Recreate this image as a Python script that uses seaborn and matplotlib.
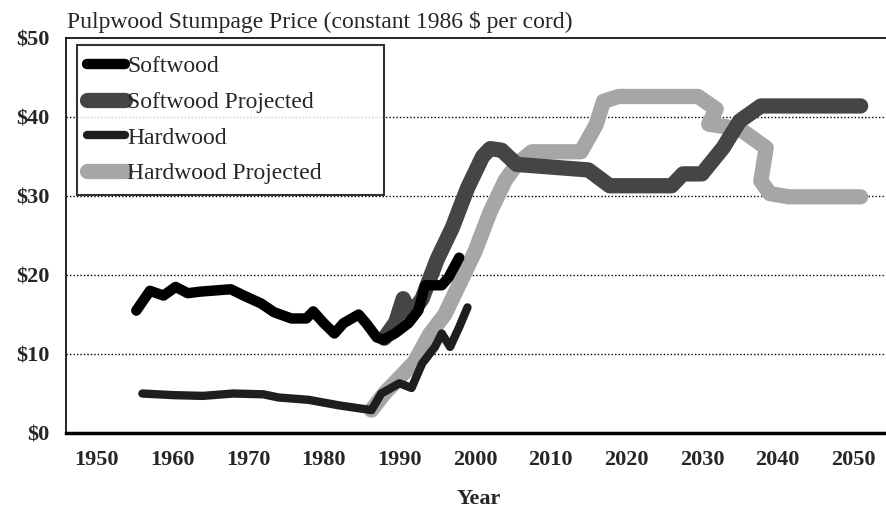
import matplotlib
matplotlib.use("Agg")
import matplotlib.pyplot as plt
import pandas as pd
import seaborn as sns

# ==========================
# DADOS
# ==========================

soft_anos = [1955.2, 1957, 1958.8, 1960.4, 1962, 1963.7, 1967.7, 1969.4, 1971.7,
             1973.4, 1975.7, 1977.7, 1978.6, 1980, 1981.4, 1982.6, 1984.6, 1985.6,
             1987, 1987.9, 1989.4, 1991.2, 1992.5, 1993.4, 1995.6, 1996.5, 1997.9]
soft_precos = [15.5, 18.0, 17.4, 18.5, 17.7, 17.9, 18.2, 17.4, 16.4,
               15.3, 14.5, 14.5, 15.4, 13.9, 12.6, 13.9, 15.0, 13.9,
               12.1, 11.8, 12.6, 13.9, 15.5, 18.7, 18.7, 19.7, 22.2]

soft_proj_anos = [1988, 1989.5, 1990.5, 1991.5, 1993, 1995, 1997, 1999, 2001,
                  2002, 2003.5, 2005.5, 2015, 2017.8, 2026, 2027.5, 2030, 2032.8,
                  2035, 2037.8, 2051]
soft_proj_precos = [12.0, 14.0, 17.0, 15.0, 17.0, 22.0, 26.0, 31.0, 35.0,
                    36.0, 35.8, 34.0, 33.3, 31.3, 31.3, 32.8, 32.8, 36.1,
                    39.5, 41.4, 41.4]

hard_anos = [1956, 1960, 1964, 1968, 1972, 1974, 1978, 1982, 1986.3, 1987.6,
             1990, 1991.6, 1993, 1994.7, 1995.6, 1996.7, 1997.9, 1999]
hard_precos = [5.0, 4.8, 4.7, 5.0, 4.9, 4.5, 4.2, 3.5, 2.9, 5.0,
               6.3, 5.7, 8.8, 10.9, 12.6, 10.9, 13.4, 15.9]

hard_proj_anos = [1986.3, 1988, 1990, 1992, 1994, 1996, 1998, 2000, 2002, 2004,
                  2005.5, 2007.5, 2014, 2016, 2017, 2019, 2029.5, 2031.9, 2030.9,
                  2035, 2038.5, 2037.8, 2039, 2041.5, 2051]
hard_proj_precos = [2.9, 5.0, 7.0, 9.0, 12.5, 15.0, 19.0, 23.0, 28.0, 32.0,
                    34.0, 35.6, 35.6, 39.0, 42.0, 42.6, 42.6, 41.0, 39.1,
                    38.5, 36.1, 31.9, 30.3, 29.9, 29.9]

Y_TICKS = [0, 10, 20, 30, 40, 50]
Y_LABELS = ["$0", "$10", "$20", "$30", "$40", "$50"]
X_TICKS = [1950, 1960, 1970, 1980, 1990, 2000, 2010, 2020, 2030, 2040, 2050]

# ==========================
# ESTILO
# ==========================

sns.set_style("white")
plt.rcParams["font.family"] = ["Liberation Serif", "DejaVu Serif"]

fig = plt.figure(figsize=(8.87, 5.11), dpi=100)
ax = fig.add_axes([0.0744, 0.1526, 0.93, 0.773])

# grade pontilhada
for y in Y_TICKS[1:-1]:
    ax.axhline(y, color="black", linestyle=(0, (1, 1.5)), linewidth=1.0, zorder=0)

series = [
    (hard_proj_anos, hard_proj_precos, "#a6a6a6", 11, "Hardwood Projected"),
    (soft_proj_anos, soft_proj_precos, "#454545", 11, "Softwood Projected"),
    (hard_anos, hard_precos, "#1e1e1e", 6, "Hardwood"),
    (soft_anos, soft_precos, "black", 7.5, "Softwood"),
]

for anos, precos, cor, lw, nome in series:
    df = pd.DataFrame({"Year": anos, "Price": precos})
    sns.lineplot(data=df, x="Year", y="Price", sort=False, color=cor,
                 linewidth=lw, solid_capstyle="round", solid_joinstyle="round",
                 ax=ax, label=nome)

ax.set_xlim(1945.9, 2055)
ax.set_ylim(0, 50)
ax.set_yticks(Y_TICKS)
ax.set_yticklabels(Y_LABELS, fontsize=16, fontweight="bold")
ax.set_xticks(X_TICKS)
ax.set_xticklabels([str(x) for x in X_TICKS], fontsize=16, fontweight="bold")
ax.tick_params(axis="x", length=0, pad=12)
ax.tick_params(axis="y", length=0, pad=12)
ax.set_xlabel("Year", fontsize=16, fontweight="bold", labelpad=14)
ax.set_ylabel("")

for lado in ["left", "top"]:
    ax.spines[lado].set_color("black")
    ax.spines[lado].set_linewidth(1.2)
ax.spines["bottom"].set_color("black")
ax.spines["bottom"].set_linewidth(2.5)
ax.spines["right"].set_visible(False)

# legenda na ordem do original
handles, labels = ax.get_legend_handles_labels()
ordem = ["Softwood", "Softwood Projected", "Hardwood", "Hardwood Projected"]
hmap = dict(zip(labels, handles))
leg = ax.legend([hmap[n] for n in ordem], ordem, loc="upper left",
                bbox_to_anchor=(0.013, 0.982, 0.373, 0), mode="expand",
                fontsize=17, frameon=True, fancybox=False, edgecolor="black",
                handlelength=1.6, handletextpad=0.1, borderpad=0.45,
                labelspacing=0.6, borderaxespad=0)
leg.get_frame().set_linewidth(1.5)

fig.text(0.076, 0.945, "Pulpwood Stumpage Price (constant 1986 $ per cord)",
         fontsize=17, ha="left", va="baseline")

fig.savefig("out.png", dpi=100)
